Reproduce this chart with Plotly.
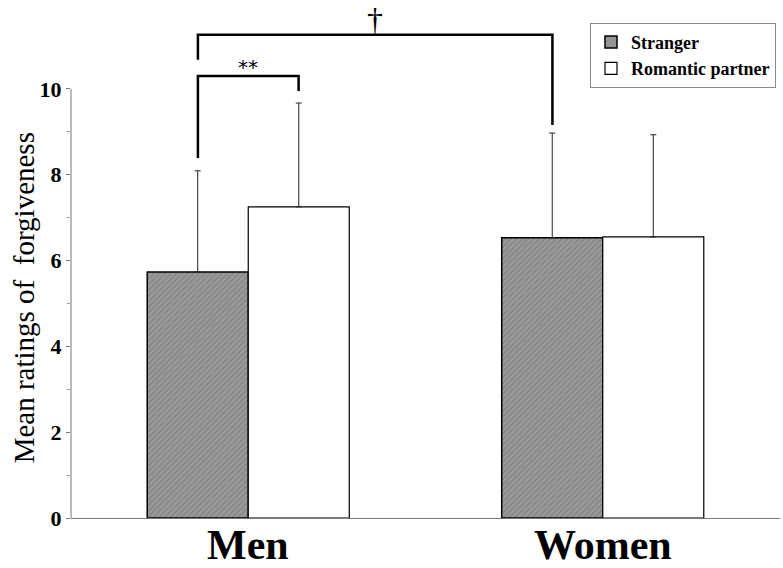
import plotly.graph_objects as go

groups = ["Men", "Women"]
series_names = ["Stranger", "Romantic partner"]
stranger_means = [5.73, 6.53]
stranger_sd = [2.36, 2.44]
partner_means = [7.25, 6.55]
partner_sd = [2.42, 2.38]

y_tick_vals = [0, 2, 4, 6, 8, 10]
y_minor_vals = [1, 3, 5, 7, 9]
y_title = "Mean ratings of  forgiveness"

# significance brackets: (x_left, x_right, y_top, y_left_end, y_right_end, label, label_y)
off = 0.142
brackets = [
    (-off, off, 10.30, 8.39, 9.95, "**", 10.52),
    (-off, 1 - off, 11.26, 10.68, 9.16, "†", 11.62),
]

serif = "Liberation Serif, Times New Roman, serif"

fig = go.Figure()
fig.add_trace(go.Bar(
    x=groups, y=stranger_means, name=series_names[0],
    marker=dict(color="#8e8e8e", line=dict(color="black", width=1.5),
                pattern=dict(shape="/", fgcolor="#5a5a5a", bgcolor="#9a9a9a",
                             size=4, solidity=0.25)),
    error_y=dict(type="data", array=stranger_sd, arrayminus=[0, 0],
                 symmetric=False, color="#222", thickness=1, width=3),
))
fig.add_trace(go.Bar(
    x=groups, y=partner_means, name=series_names[1],
    marker=dict(color="white", line=dict(color="black", width=1.2)),
    error_y=dict(type="data", array=partner_sd, arrayminus=[0, 0],
                 symmetric=False, color="#222", thickness=1, width=3),
))

shapes = []
# y-axis line only from 0 to 10
shapes.append(dict(type="line", xref="paper", yref="y", x0=0, x1=0,
                   y0=0, y1=10, line=dict(color="#777", width=1)))
annotations = []
for xl, xr, yt, yle, yre, lab, ly in brackets:
    shapes.append(dict(type="path", xref="x", yref="y",
                       path=f"M {xl},{yle} L {xl},{yt} L {xr},{yt} L {xr},{yre}",
                       line=dict(color="black", width=2.5)))
    annotations.append(dict(x=(xl + xr) / 2, y=ly, xref="x", yref="y",
                            text=lab, showarrow=False,
                            font=dict(family="DejaVu Sans, sans-serif" if lab == "**" else serif,
                                      size=20 if lab == "**" else 32, color="black")))

# group labels below the axis
for g in groups:
    annotations.append(dict(x=g, y=-0.052, xref="x", yref="paper", text=g,
                            showarrow=False, yanchor="middle",
                            font=dict(family=serif, size=42, color="black", weight="bold")))

# y-axis title
annotations.append(dict(x=-0.067, y=5.13, xref="paper", yref="y", text=y_title,
                        textangle=-90, showarrow=False, xanchor="center", yanchor="middle",
                        font=dict(family=serif, size=29, color="black")))

fig.update_layout(
    width=783, height=568,
    margin=dict(l=71, r=3, t=0, b=50, autoexpand=False),
    paper_bgcolor="white", plot_bgcolor="white",
    barmode="group", bargap=0.43, bargroupgap=0,
    shapes=shapes, annotations=annotations,
    showlegend=True,
    legend=dict(x=0.732, y=0.956, xanchor="left", yanchor="top",
                bordercolor="#888", borderwidth=1, bgcolor="white",
                font=dict(family=serif, size=18, color="black", weight="bold"),
                itemwidth=30, tracegroupgap=0),
    xaxis=dict(range=[-0.5, 1.5], showline=True, linecolor="#777", linewidth=1,
               ticks="", showgrid=False, zeroline=False, automargin=False,
               showticklabels=False),
    yaxis=dict(range=[0, 12.07], tickvals=y_tick_vals, showline=False,
               ticks="outside", ticklen=4, tickcolor="#777", showgrid=False,
               zeroline=False, automargin=False,
               minor=dict(tickvals=y_minor_vals, ticks="outside", ticklen=3, tickcolor="#999"),
               tickfont=dict(family=serif, size=22, color="black", weight="bold")),
)

fig.write_html("out.html", config={"displayModeBar": False},
               post_script="document.body.style.margin='0';")
